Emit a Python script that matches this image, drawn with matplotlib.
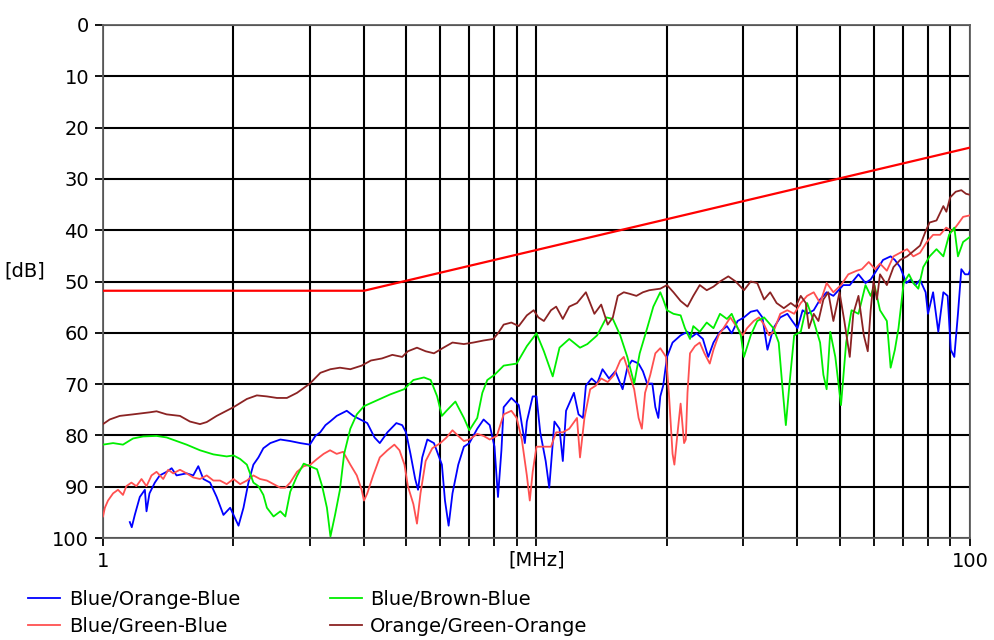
import numpy as np
import matplotlib
matplotlib.use("Agg")
import matplotlib.pyplot as plt
import matplotlib.transforms as mtransforms

plt.rcParams['font.family'] = ['DejaVu Sans']

# Limite (ligne rouge)
f_limit = [1, 4, 100]
db_limit = [51.8, 51.8, 23.9]

# Blue/Orange-Blue
f_blue = [1.153, 1.165, 1.184, 1.216, 1.249, 1.26, 1.28, 1.317, 1.352, 1.402, 1.44, 1.478,
          1.559, 1.615, 1.659, 1.704, 1.766, 1.829, 1.896, 1.965, 2.0, 2.054, 2.109, 2.165,
          2.223, 2.283, 2.344, 2.432, 2.565, 2.703, 2.851, 3.0, 3.09, 3.17, 3.26, 3.34,
          3.46, 3.65, 3.78, 3.92, 4.07, 4.23, 4.35, 4.53, 4.75, 4.9, 5.0, 5.12, 5.25, 5.33,
          5.45, 5.6, 5.8, 6.05, 6.15, 6.27, 6.4, 6.6, 6.8, 7.0, 7.3, 7.55, 7.8, 8.0, 8.15,
          8.3, 8.4, 8.75, 9.1, 9.4, 9.5, 9.8, 10.0, 10.2, 10.5, 10.7, 11.0, 11.3, 11.5,
          11.7, 12.2, 12.5, 12.8, 13.0, 13.4, 13.8, 14.2, 14.7, 15.2, 15.8, 16.2, 16.6,
          17.2, 17.6, 18.0, 18.5, 18.8, 19.1, 19.3, 19.6, 20.0, 20.6, 21.5, 22.3, 22.8,
          23.4, 24.2, 24.9, 25.6, 26.5, 27.5, 28.2, 29.1, 30.1, 31.2, 32.3, 33.2, 34.1,
          35.2, 36.5, 37.9, 38.9, 40.0, 41.1, 42.1, 43.6, 45.1, 46.7, 48.4, 51.0, 52.8,
          55.3, 57.4, 59.0, 60.5, 63.0, 65.6, 67.1, 69.0, 71.3, 73.0, 74.8, 76.7, 79.0,
          80.0, 82.2, 84.5, 86.8, 88.8, 90.3, 92.0, 93.8, 95.5, 97.4, 99.2, 100]
db_blue = [96.9, 97.9, 95.5, 92.0, 90.6, 94.8, 91.3, 89.2, 87.8, 87.1, 86.4, 87.8,
           87.4, 87.8, 86.0, 88.5, 89.2, 92.0, 95.5, 94.1, 95.5, 97.6, 94.1, 89.2,
           85.7, 84.3, 82.5, 81.5, 80.8, 81.1, 81.5, 81.8, 80.1, 79.4, 78.0, 77.3,
           76.2, 75.2, 76.2, 76.9, 77.6, 80.4, 81.5, 79.4, 77.6, 78.0, 79.4, 83.6, 88.5, 90.6,
           84.3, 80.8, 81.5, 85.7, 92.7, 97.6, 91.3, 85.7, 82.2, 81.5, 78.7, 76.9, 78.0, 82.2, 92.0,
           82.9, 74.5, 72.7, 74.1, 81.5, 77.3, 72.4, 72.4, 79.4, 85.0, 90.2, 77.3, 78.7, 85.0,
           75.2, 71.7, 75.9, 76.6, 70.3, 68.9, 69.9, 67.1, 68.9, 67.5, 71.0, 66.8, 65.4,
           66.0, 67.5, 69.9, 69.9, 74.5, 76.6, 72.4, 70.3, 64.7, 61.9, 60.5, 59.8, 60.8,
           60.1, 61.2, 64.7, 61.9, 59.8, 58.7, 60.1, 57.7, 57.0, 55.9, 55.6, 57.0, 63.3,
           59.1, 57.0, 56.3, 57.7, 59.1, 55.6, 56.3, 55.6, 53.5, 52.1, 52.8, 50.7, 50.7,
           48.6, 50.3, 49.6, 48.2, 45.8, 45.1, 45.8, 47.2, 50.3, 49.6, 50.7, 49.7, 52.1,
           56.3, 52.1, 59.8, 52.1, 52.8, 63.3, 64.7, 56.3, 47.6, 48.6, 48.6, 47.9]

# Blue/Green-Blue
f_red = [1.0, 1.01, 1.027, 1.055, 1.083, 1.112, 1.132, 1.163, 1.194, 1.227, 1.26, 1.294,
         1.329, 1.377, 1.414, 1.452, 1.505, 1.559, 1.615, 1.674, 1.735, 1.797, 1.862,
         1.929, 2.0, 2.072, 2.147, 2.223, 2.303, 2.388, 2.474, 2.565, 2.634, 2.703,
         2.803, 2.904, 3.008, 3.117, 3.228, 3.34, 3.46, 3.58, 3.72, 3.85, 3.95, 4.0,
         4.07, 4.2, 4.35, 4.53, 4.7, 4.83, 4.96, 5.05, 5.2, 5.3, 5.4, 5.55, 5.75, 6.0,
         6.2, 6.4, 6.6, 6.8, 7.0, 7.3, 7.55, 7.8, 8.1, 8.25, 8.4, 8.75, 9.0, 9.25, 9.5,
         9.65, 9.8, 10.0, 10.4, 10.8, 11.1, 11.5, 11.9, 12.4, 12.6, 12.9, 13.3, 13.7,
         14.1, 14.6, 15.1, 15.6, 15.9, 16.3, 16.8, 17.2, 17.5, 17.8, 18.3, 18.8, 19.3,
         19.9, 20.2, 20.6, 20.8, 21.2, 21.5, 21.9, 22.1, 22.3, 22.6, 23.2, 23.8, 24.4,
         25.1, 25.6, 26.3, 27.0, 28.0, 29.1, 29.9, 30.6, 31.7, 32.6, 33.5, 34.4, 35.2,
         36.5, 37.9, 39.3, 40.7, 42.1, 43.6, 45.1, 46.7, 48.4, 50.4, 52.4, 54.8, 56.3,
         58.4, 60.4, 62.0, 64.3, 66.6, 69.0, 71.6, 74.0, 76.7, 79.5, 82.2, 85.3, 88.1,
         91.1, 93.8, 96.4, 100]
db_red = [95.8, 94.1, 92.7, 91.3, 90.6, 91.6, 89.9, 89.2, 89.9, 88.5, 89.9, 87.8,
          87.1, 88.5, 86.7, 87.4, 86.7, 87.4, 88.2, 88.5, 87.8, 88.8, 88.8,
          89.5, 88.5, 89.5, 88.8, 87.8, 88.5, 88.8, 89.5, 90.2, 90.2, 89.2,
          87.1, 86.0, 85.7, 84.6, 83.6, 82.9, 83.6, 83.2, 85.7, 87.8, 90.6, 92.7,
          91.3, 87.8, 84.3, 82.9, 81.8, 82.9, 85.7, 89.9, 93.4, 97.2, 91.3, 85.0, 82.5, 81.5,
          80.4, 79.0, 80.1, 81.1, 80.8, 79.7, 80.1, 80.8, 80.1, 78.0, 75.9, 75.2, 76.6, 80.8, 87.8,
          92.7, 87.1, 82.2, 82.2, 82.2, 79.4, 79.4, 78.7, 76.6, 84.3, 76.6, 71.0, 70.3,
          68.9, 69.6, 68.2, 65.4, 64.7, 67.5, 71.0, 76.6, 78.7, 71.7, 68.2, 64.0, 63.0,
          64.7, 71.7, 83.6, 85.7, 78.7, 73.8, 81.5, 80.8, 71.7, 64.0, 62.6, 61.9, 64.0,
          66.0, 63.3, 60.5, 59.1, 57.0, 59.1, 60.5, 59.1, 57.7, 57.0, 58.4, 60.5, 59.8,
          56.3, 55.6, 56.3, 54.2, 52.8, 52.1, 54.2, 50.3, 52.1, 50.7, 48.6, 47.9, 47.6,
          46.2, 47.6, 46.5, 47.9, 45.1, 44.4, 43.7, 45.1, 44.4, 42.3, 40.9, 40.9, 39.5,
          40.2, 38.8, 37.4, 37.1]

# Blue/Brown-Blue
f_green = [1.0, 1.055, 1.112, 1.173, 1.238, 1.329, 1.402, 1.478, 1.559, 1.674, 1.797, 1.929,
           2.0, 2.072, 2.147, 2.223, 2.283, 2.344, 2.388, 2.474, 2.565, 2.634, 2.703, 2.803,
           2.904, 3.0, 3.117, 3.203, 3.285, 3.347, 3.43, 3.52, 3.6, 3.72, 3.85, 4.0, 4.3,
           4.6, 4.95, 5.2, 5.5, 5.7, 5.9, 6.05, 6.2, 6.5, 6.6, 6.8, 7.0, 7.3, 7.5, 7.7, 8.0,
           8.4, 9.0, 9.5, 10.0, 10.4, 10.9, 11.3, 11.9, 12.6, 13.1, 13.8, 14.5, 15.0, 15.6,
           16.2, 16.8, 17.3, 18.0, 18.6, 19.3, 19.6, 20.0, 20.7, 21.5, 22.0, 22.6, 23.0,
           23.8, 24.7, 25.6, 26.5, 27.5, 28.2, 29.6, 30.1, 31.2, 32.3, 33.5, 35.2, 36.2,
           36.9, 37.6, 38.3, 39.3, 40.7, 42.1, 43.6, 45.1, 45.9, 46.7, 47.6, 48.9, 50.4,
           51.8, 53.3, 55.3, 57.4, 59.0, 60.2, 62.0, 64.3, 65.6, 67.1, 68.4, 70.3, 72.3,
           74.0, 76.0, 78.0, 80.7, 83.7, 86.8, 89.5, 92.0, 93.8, 96.4, 100]
db_green = [81.8, 81.5, 81.8, 80.6, 80.2, 80.1, 80.4, 81.1, 81.8, 82.9, 83.7, 84.1,
            83.9, 84.6, 85.7, 89.2, 89.9, 91.6, 94.1, 95.8, 94.8, 95.8, 91.0, 87.9,
            85.5, 86.0, 86.6, 89.9, 94.1, 99.7, 95.5, 90.6, 83.6, 78.7, 75.9, 74.3, 73.1,
            72.0, 71.0, 69.2, 68.7, 69.2, 72.4, 76.2, 75.2, 73.4, 74.5, 76.6, 79.0, 76.6, 71.7, 69.2, 68.2,
            66.4, 66.0, 62.6, 60.1, 63.6, 68.5, 62.9, 61.2, 62.9, 62.2, 60.5, 57.0, 57.3, 60.5,
            64.7, 69.9, 64.0, 59.1, 54.9, 52.1, 53.5, 55.6, 56.3, 56.6, 59.1, 61.2, 58.7,
            59.8, 58.0, 59.1, 56.3, 57.3, 56.3, 60.5, 64.7, 60.5, 57.7, 57.0, 59.1, 61.9,
            70.3, 78.0, 70.3, 60.5, 59.8, 54.2, 57.7, 61.9, 68.2, 71.0, 59.8, 64.7, 74.1,
            61.9, 55.6, 56.3, 50.7, 52.8, 50.7, 55.6, 57.7, 66.8, 63.3, 59.1, 50.3, 48.6,
            50.3, 51.4, 47.2, 45.1, 43.7, 45.1, 40.9, 39.5, 45.1, 42.3, 41.3]

# Orange/Green-Orange
f_brown = [1.0, 1.036, 1.093, 1.173, 1.282, 1.329, 1.402, 1.505, 1.587, 1.674, 1.735, 1.829,
           2.0, 2.147, 2.264, 2.388, 2.519, 2.656, 2.803, 3.0, 3.173, 3.347, 3.52, 3.72,
           3.95, 4.15, 4.4, 4.65, 4.9, 5.05, 5.3, 5.55, 5.8, 6.1, 6.4, 6.8, 7.15, 7.55,
           7.95, 8.15, 8.4, 8.75, 9.1, 9.5, 9.85, 10.1, 10.4, 10.8, 11.1, 11.5, 11.9, 12.4,
           13.0, 13.6, 14.1, 14.6, 15.0, 15.4, 15.9, 16.4, 17.0, 17.6, 18.2, 19.3, 20.0,
           20.7, 21.5, 22.3, 23.0, 23.8, 24.7, 25.6, 26.5, 27.7, 28.8, 30.1, 31.2, 32.3,
           33.5, 34.6, 35.8, 37.2, 38.6, 39.6, 40.7, 41.8, 42.5, 43.6, 44.7, 45.9, 47.1,
           48.4, 50.0, 51.3, 52.8, 53.8, 55.3, 56.9, 58.1, 59.0, 59.9, 61.0, 62.0, 64.3,
           66.6, 69.0, 71.6, 74.0, 76.7, 79.0, 80.7, 83.7, 86.8, 88.2, 90.0, 92.7, 95.5,
           97.9, 100]
db_brown = [77.8, 76.9, 76.2, 75.9, 75.5, 75.3, 75.9, 76.2, 77.3, 77.8, 77.4, 76.2,
            74.5, 72.9, 72.2, 72.4, 72.7, 72.7, 71.7, 69.9, 67.8, 67.1, 66.8, 67.1,
            66.4, 65.4, 65.0, 64.3, 64.7, 63.6, 62.9, 63.6, 64.0, 62.9, 61.9, 62.2, 61.9, 61.5,
            61.2, 60.1, 58.4, 58.0, 58.7, 56.6, 55.6, 57.0, 57.7, 55.6, 54.9, 57.3, 54.9, 54.2,
            52.1, 56.3, 54.5, 58.4, 57.0, 52.8, 52.1, 52.4, 52.8, 52.1, 51.7, 51.4, 50.7,
            52.1, 53.8, 54.9, 52.8, 50.7, 51.7, 51.0, 50.0, 49.0, 50.0, 51.7, 50.0, 50.3,
            53.5, 52.1, 54.2, 55.2, 54.2, 54.9, 52.8, 54.2, 59.1, 56.3, 57.7, 53.5, 52.1,
            57.7, 52.1, 57.7, 64.7, 56.3, 52.8, 60.5, 63.6, 55.6, 50.0, 53.5, 48.6, 50.7,
            47.2, 45.8, 45.1, 44.1, 43.0, 40.2, 38.5, 38.1, 35.3, 36.4, 33.6, 32.5, 32.2,
            32.9, 33.1]

x_ticks = [1, 2, 3, 4, 5, 6, 7, 8, 9, 10, 20, 30, 40, 50, 60, 70, 80, 90, 100]
x_labels = ['1'] + [''] * 17 + ['100']
y_ticks = list(range(0, 101, 10))

fig = plt.figure(figsize=(9.95, 6.4), dpi=100)
ax = fig.add_axes([103 / 995, 1 - 538 / 640, 867 / 995, 513 / 640])

ax.plot(f_limit, db_limit, color='#ff0000', lw=1.6, zorder=3)
l1, = ax.plot(f_blue, db_blue, color='#0000ff', lw=1.3, label='Blue/Orange-Blue', zorder=4)
l2, = ax.plot(f_red, db_red, color='#ff5050', lw=1.3, label='Blue/Green-Blue', zorder=4)
l3, = ax.plot(f_green, db_green, color='#00ee00', lw=1.3, label='Blue/Brown-Blue', zorder=4)
l4, = ax.plot(f_brown, db_brown, color='#8b2323', lw=1.3, label='Orange/Green-Orange', zorder=4)

ax.set_xscale('log')
ax.set_xlim(1, 100)
ax.set_ylim(100, 0)
ax.set_xticks(x_ticks)
ax.set_xticklabels(x_labels)
ax.xaxis.set_minor_locator(matplotlib.ticker.NullLocator())
ax.set_yticks(y_ticks)
ax.grid(True, color='black', lw=1.5)
ax.tick_params(length=6, width=1.3, labelsize=14, pad=4)
for s in ax.spines.values():
    s.set_color('#606060')
    s.set_linewidth(1.3)

# libellés des axes
trans = mtransforms.blended_transform_factory(ax.transData, ax.transAxes)
ax.text(10, -0.025, '[MHz]', transform=trans, ha='center', va='top', fontsize=14)
fig.text(25 / 995, 1 - 271 / 640, '[dB]', ha='center', va='center', fontsize=14)

fig.legend(handles=[l1, l2, l3, l4], ncol=2, loc='upper left',
           bbox_to_anchor=(28 / 995, 1 - 590 / 640), frameon=False, fontsize=14,
           handlelength=1.65, handletextpad=0.45, columnspacing=4.6, labelspacing=0.4,
           borderaxespad=0, borderpad=0)

fig.savefig('out.png', dpi=100)
